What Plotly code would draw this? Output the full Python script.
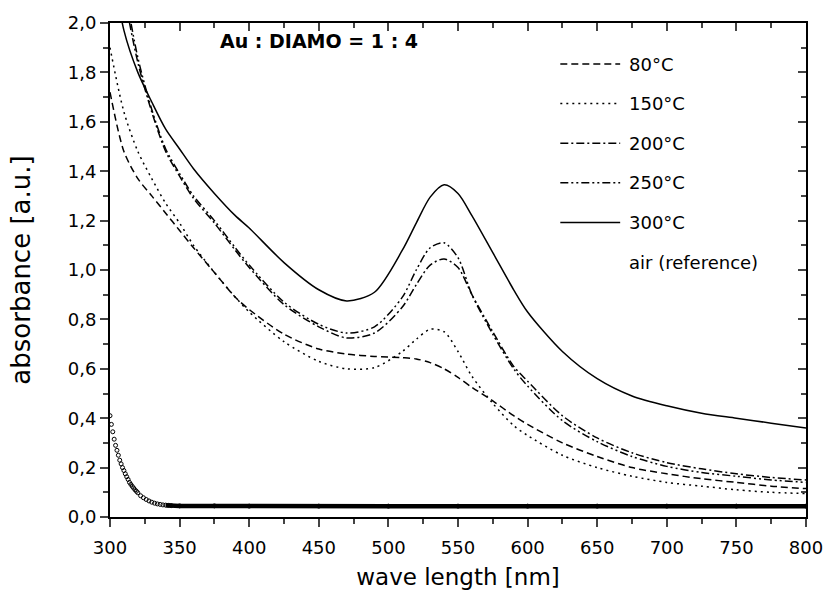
import plotly.graph_objects as go

# ---------------- data ----------------
wavelength = [300, 310, 320, 330, 340, 350, 360, 375, 390, 400, 425, 450, 470, 490,
              510, 520, 530, 540, 550, 560, 575, 590, 600, 625, 650, 675, 700, 725,
              750, 775, 800]

abs_80 = [1.72, 1.48, 1.37, 1.30, 1.23, 1.16, 1.09, 0.99, 0.89, 0.84, 0.74, 0.68, 0.66, 0.65,
          0.645, 0.64, 0.625, 0.60, 0.565, 0.525, 0.47, 0.41, 0.375, 0.30, 0.245, 0.20, 0.175, 0.155,
          0.14, 0.125, 0.115]

abs_150 = [1.90, 1.64, 1.48, 1.37, 1.27, 1.19, 1.10, 0.99, 0.89, 0.83, 0.71, 0.63, 0.60, 0.605,
           0.67, 0.72, 0.76, 0.75, 0.67, 0.57, 0.46, 0.37, 0.33, 0.25, 0.20, 0.165, 0.14, 0.125,
           0.11, 0.10, 0.095]

abs_200 = [2.45, 2.12, 1.84, 1.64, 1.48, 1.38, 1.29, 1.19, 1.08, 1.01, 0.86, 0.77, 0.725, 0.745,
           0.85, 0.94, 1.02, 1.045, 1.01, 0.90, 0.75, 0.61, 0.55, 0.41, 0.32, 0.26, 0.22, 0.195,
           0.175, 0.16, 0.15]

abs_250 = [2.50, 2.16, 1.86, 1.65, 1.49, 1.39, 1.30, 1.20, 1.09, 1.02, 0.87, 0.78, 0.745, 0.77,
           0.89, 1.00, 1.09, 1.11, 1.05, 0.90, 0.74, 0.60, 0.53, 0.39, 0.305, 0.245, 0.205, 0.18,
           0.165, 0.15, 0.14]

abs_300 = [2.30, 1.97, 1.80, 1.68, 1.57, 1.49, 1.41, 1.31, 1.22, 1.17, 1.03, 0.92, 0.875, 0.91,
           1.08, 1.19, 1.295, 1.345, 1.31, 1.22, 1.07, 0.92, 0.83, 0.67, 0.56, 0.49, 0.45, 0.42,
           0.40, 0.38, 0.36]

air_wl = [300, 301, 302, 303, 304, 305, 306, 307, 308, 309, 310, 311, 312, 313, 314, 315, 316,
          317, 318, 319, 320, 322, 324, 326, 328, 330, 332, 334, 336, 338, 340, 342, 344,
          350, 375, 400, 450, 500, 550, 600, 650, 700, 750, 800]
air_abs = [0.41, 0.375, 0.345, 0.315, 0.29, 0.27, 0.25, 0.23, 0.215, 0.20, 0.188, 0.175, 0.163,
           0.152, 0.14, 0.132, 0.124, 0.117, 0.11, 0.104, 0.098, 0.086, 0.078, 0.071, 0.065,
           0.06, 0.056, 0.053, 0.051, 0.049, 0.048, 0.047, 0.046,
           0.045, 0.045, 0.044, 0.044, 0.044, 0.044, 0.044, 0.044, 0.044, 0.044, 0.044]

series_names = ["80°C", "150°C", "200°C", "250°C", "300°C"]
series_values = [abs_80, abs_150, abs_200, abs_250, abs_300]
series_dash = ["7px,4px", "2px,4px", "8px,3px,2px,3px", "8px,3px,2px,3px,2px,3px", "solid"]
legend_labels = series_names + ["air (reference)"]

x_ticks = [300, 350, 400, 450, 500, 550, 600, 650, 700, 750, 800]
y_ticks = [0.0, 0.2, 0.4, 0.6, 0.8, 1.0, 1.2, 1.4, 1.6, 1.8, 2.0]

FONT = "DejaVu Sans"

fig = go.Figure()

for name, vals, dash in zip(series_names, series_values, series_dash):
    fig.add_trace(go.Scatter(
        x=wavelength, y=vals, name=name, mode="lines",
        line=dict(color="black", width=1.5, dash=dash, shape="spline", smoothing=0.8),
        showlegend=False,
    ))

# air reference: open circles + thick band in flat part
fig.add_trace(go.Scatter(
    x=air_wl[30:], y=air_abs[30:], mode="lines",
    line=dict(color="black", width=4.5), showlegend=False, hoverinfo="skip",
))
fig.add_trace(go.Scatter(
    x=air_wl, y=air_abs, mode="markers", name="air (reference)",
    marker=dict(symbol="circle-open", size=4, color="black", line=dict(width=1)),
    showlegend=False,
))
# helper trace for mirrored top/right axes
fig.add_trace(go.Scatter(x=[None], y=[None], xaxis="x2", yaxis="y2",
                         showlegend=False, hoverinfo="skip"))

# ---- legend drawn as layout shapes/annotations (long line samples like the reference)
shapes = []
annotations = []
leg_top = 0.917     # paper y of first row
leg_step = 0.0802   # paper spacing between rows
for i, label in enumerate(legend_labels):
    yy = leg_top - i * leg_step
    if i < len(series_dash):
        shapes.append(dict(type="line", xref="paper", yref="paper", x0=0.647, x1=0.733,
                           y0=yy, y1=yy, line=dict(color="black", width=1.5,
                                                   dash=series_dash[i])))
    annotations.append(dict(text=label, xref="paper", yref="paper", x=0.743, y=yy,
                            xanchor="left", yanchor="middle", showarrow=False,
                            font=dict(family=FONT, size=18, color="black")))

annotations.append(dict(text="<b>Au : DIAMO = 1 : 4</b>", xref="paper", yref="paper",
                        x=0.300, y=0.964, xanchor="center", yanchor="middle", showarrow=False,
                        font=dict(family=FONT, size=19, color="black")))

fig.update_layout(
    width=835, height=599,
    margin=dict(l=110, r=22, t=18, b=82),
    paper_bgcolor="white", plot_bgcolor="white",
    separators=",.",
    font=dict(family=FONT, color="black", size=18),
    showlegend=False,
    xaxis=dict(range=[300, 800], tickvals=x_ticks, ticks="outside", ticklen=8, tickwidth=1.5,
               showline=True, linewidth=2, linecolor="black", showgrid=False, zeroline=False,
               tickfont=dict(family=FONT, size=18), ticklabelstandoff=5,
               minor=dict(dtick=25, tick0=300, ticks="outside", ticklen=5, tickwidth=1.5,
                          showgrid=False),
               title=dict(text="wave length [nm]", font=dict(family=FONT, size=23), standoff=12)),
    yaxis=dict(range=[0, 2.0], tickvals=y_ticks, tickformat=".1f", ticks="outside", ticklen=8,
               tickwidth=1.5, showline=True, linewidth=2, linecolor="black", showgrid=False,
               zeroline=False, tickfont=dict(family=FONT, size=18),
               minor=dict(dtick=0.1, tick0=0, ticks="outside", ticklen=5, tickwidth=1.5,
                          showgrid=False),
               title=dict(text="absorbance [a.u.]", font=dict(family=FONT, size=26), standoff=30)),
    xaxis2=dict(range=[300, 800], overlaying="x", side="top", anchor="y2", tickvals=x_ticks,
                ticks="inside", ticklen=8, tickwidth=1.5, showticklabels=False, showline=True,
                linewidth=2, linecolor="black", showgrid=False, zeroline=False,
                minor=dict(dtick=25, tick0=300, ticks="inside", ticklen=5, tickwidth=1.5,
                           showgrid=False)),
    yaxis2=dict(range=[0, 2.0], overlaying="y", side="right", anchor="x2", tickvals=y_ticks,
                ticks="inside", ticklen=8, tickwidth=1.5, showticklabels=False, showline=True,
                linewidth=2, linecolor="black", showgrid=False, zeroline=False,
                minor=dict(dtick=0.1, tick0=0, ticks="inside", ticklen=5, tickwidth=1.5,
                           showgrid=False)),
    shapes=shapes,
    annotations=annotations,
)

fig.write_html("out.html")
